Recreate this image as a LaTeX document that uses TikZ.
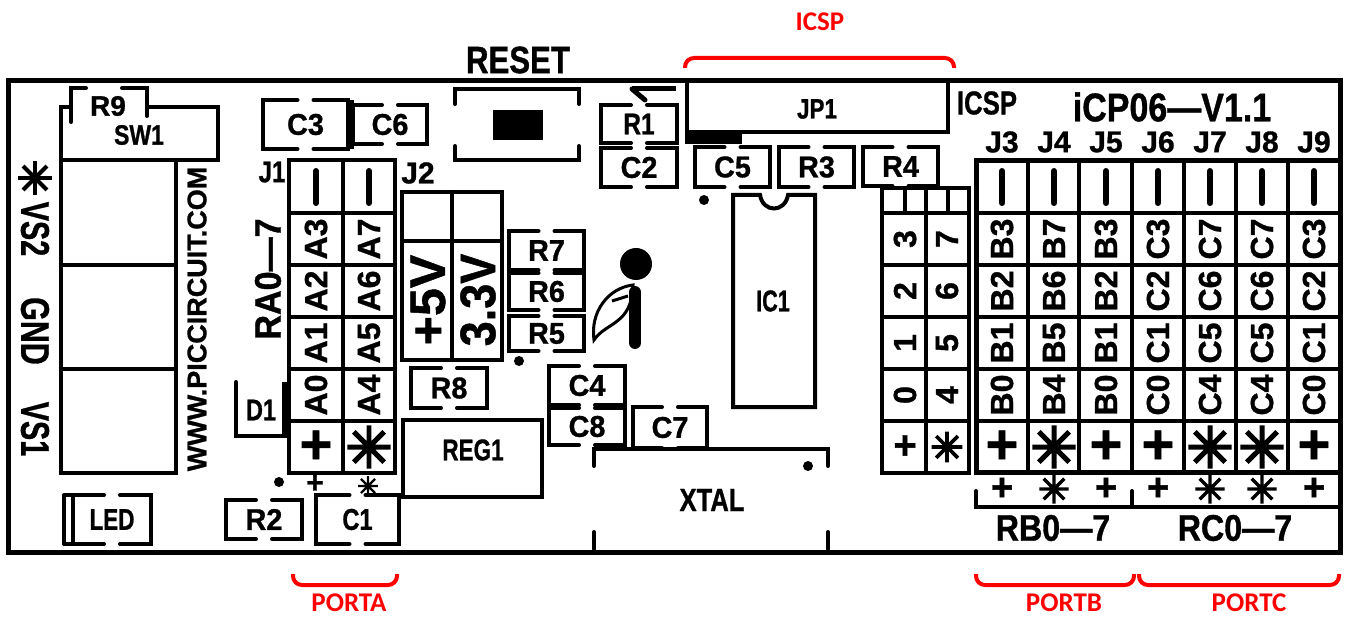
\documentclass[tikz,border=0pt]{standalone}
\usepackage{fontspec}
\setmainfont[BoldFeatures={FakeBold=1}]{Liberation Sans}
\newfontfamily\notefont{Carlito}
\newfontfamily\symfont[FakeBold=4]{DejaVu Sans}
\newcommand{\starmark}{{\symfont ✳}}
\newcommand{\plusmark}{+}
% one part outline, open at the middle of its top and bottom edge
\newcommand{\partbox}[6]{%
	\pgfmathsetmacro{\midl}{(#2+#4)/2-8}
	\pgfmathsetmacro{\midr}{(#2+#4)/2+8}
	\draw[part] (\midl,#3) -- (#2,#3) -- (#2,#5) -- (\midl,#5);
	\draw[part] (\midr,#3) -- (#4,#3) -- (#4,#5) -- (\midr,#5);
	\node[silk=30,xscale=.96] (#1) at ({(#2+#4)/2},{(#3+#5)/2}) {#6};
}
\begin{document}
\begin{tikzpicture}[x=1pt,y=-1pt,
		  line join=miter,
		  part/.style={line width=4pt,line cap=round},
		  silk/.style={font=\bfseries\fontsize{#1}{#1}\selectfont,inner sep=0pt,text=black},
		  dotmark/.style={fill=black,draw=none},
		  redline/.style={red,line width=4pt,rounded corners=9pt},
		  redtext/.style={font=\notefont\bfseries\fontsize{27}{27}\selectfont,text=red,inner sep=0pt}]
	\useasboundingbox (0,0) rectangle (1346,617);
	\fill[white] (0,0) rectangle (1346,617);
	\draw[line width=5pt] (8,81) rectangle (1340,552);
	% left side
	\draw[part] (61,160) rectangle (176,473);
	\draw[part] (61,265) -- (176,265) (61,369) -- (176,369);
	\draw[part] (61,122) -- (61,107) -- (71,107) (147,107) -- (218,107) -- (218,160) -- (61,160) -- (61,107);
	\draw[part] (71,122) -- (71,88) -- (86,88) (122,88) -- (147,88) -- (147,116);
	\node[silk=28] (r9) at (108,106) {R9};
	\node[silk=28,xscale=.82] (sw1) at (139,135) {SW1};
	\node[silk=40,rotate=-90,xscale=.72] (vs2) at (35,229) {VS2};
	\node[silk=44,rotate=-90] (vs2sign) at (35,178) {\starmark};
	\node[silk=40,rotate=-90,xscale=.76] (gnd) at (35,331) {GND};
	\node[silk=40,rotate=-90,xscale=.72] (vs1) at (35,429) {VS1};
	\node[silk=27,rotate=90] (web) at (197,319) {WWW.PICCIRCUIT.COM};
	\node[silk=37,rotate=90,xscale=.92] (ra) at (268,279) {RA0—7};
	\node[silk=30,xscale=.8] (j1) at (272,172) {J1};
	\node[silk=30,xscale=.78] (d1) at (261,410) {D1};
	\draw[part] (236,382) -- (236,436) -- (286,436);
	\draw[line width=6pt] (285,382) -- (285,438);
	\partbox{c3}{263}{100}{348}{149}{C3}
	\partbox{c6}{353}{105}{427}{144}{C6}
	\draw[line width=6pt] (351,100) -- (351,149);
	\partbox{r2}{226}{500}{302}{539}{R2}
	\partbox{c1}{316}{495}{399}{544}{\scalebox{.82}[1]{C1}}
	\partbox{led}{73}{495}{151}{544}{\scalebox{.78}[1]{LED}}
	\draw[part] (64,495) -- (73,495) (64,544) -- (73,544) (64,495) -- (64,544);
	\fill[dotmark] (279,482) circle[radius=5pt];
	\node[silk=30] (j1plus) at (315,484) {\plusmark};
	\node[silk=26] (j1star) at (368,486) {\starmark};
	% J1
	\draw[part] (289,160) rectangle (395,473);
	\draw[part] (343,160) -- (343,473);
	\foreach \rowy in {213,265,317,369,421}
		\draw[part] (289,\rowy) -- (395,\rowy);
	\foreach \cx/\ta/\tb/\tc/\td/\sg in {316/A3/A2/A1/A0/\plusmark,369/A7/A6/A5/A4/\starmark}{
		\draw[line width=6pt,line cap=round] (\cx,171) -- (\cx,203);
		\node[silk=32,rotate=90] at (\cx,239) {\ta};
		\node[silk=32,rotate=90] at (\cx,291) {\tb};
		\node[silk=32,rotate=90] at (\cx,343) {\tc};
		\node[silk=32,rotate=90] at (\cx,395) {\td};
		\node[silk=56] at (\cx,447) {\sg};
	}
	% J2
	\draw[part] (402,192) rectangle (502,360);
	\draw[part] (452,192) -- (452,360) (402,241) -- (502,241);
	\node[silk=30] (j2) at (418,173) {J2};
	\node[silk=50,rotate=90] (v5) at (428,300) {+5V};
	\node[silk=50,rotate=90,xscale=.9] (v33) at (478,300) {3.3V};
	% reset and the parts beside it
	\node[silk=38,xscale=.82] (reset) at (518,60) {RESET};
	\draw[part] (455,104) -- (455,89) -- (579,89) -- (579,104);
	\draw[part] (455,146) -- (455,160) -- (579,160) -- (579,146);
	\fill (493,110) rectangle (543,140);
	\partbox{r7}{509}{231}{584}{270}{R7}
	\partbox{r6}{509}{273}{584}{310}{R6}
	\partbox{r5}{509}{316}{584}{351}{R5}
	\fill[dotmark] (519,361) circle[radius=5pt];
	\partbox{r8}{411}{368}{487}{408}{R8}
	\partbox{c4}{549}{366}{625}{405}{C4}
	\partbox{c8}{549}{408}{625}{445}{C8}
	\partbox{c7}{633}{407}{707}{448}{C7}
	\draw[part] (403,420) rectangle (542,497);
	\node[silk=30,xscale=.75] (reg1) at (473,450) {REG1};
	\partbox{r1}{601}{105}{677}{143}{\scalebox{.85}[1]{R1}}
	\partbox{c2}{601}{148}{677}{187}{C2}
	\draw[line width=5pt] (632,89) -- (676,89);
	\draw[line width=5pt,line cap=round] (632,89) -- (645,100);
	% logo
	\fill[dotmark] (636,264) circle[radius=16pt];
	\draw[line width=12pt,line cap=round] (635,292) -- (635,343);
	\draw[line width=3pt] (633,285) .. controls (608,288) and (590,312) .. (594,340) .. controls (606,322) and (632,325) .. cycle;
	\draw[line width=3pt] (628,296) -- (612,301);
	% JP1
	\draw[part] (687,81) -- (687,132) -- (948,132) -- (948,81);
	\fill (685,132) rectangle (742,144);
	\node[silk=28,xscale=.8] (jp1) at (817,109) {JP1};
	\partbox{c5}{695}{147}{770}{187}{C5}
	\partbox{r3}{779}{147}{854}{187}{R3}
	\partbox{r4}{863}{147}{938}{186}{R4}
	\fill[dotmark] (704,200) circle[radius=5pt];
	\draw[part] (733,195) -- (760,195) .. controls (763,213) and (785,213) .. (788,195) -- (815,195) -- (815,407) -- (733,407) -- cycle;
	\node[silk=30,xscale=.72] (ic1) at (773,301) {IC1};
	% XTAL
	\draw[part] (594,466) -- (594,449) -- (828,449) -- (828,466);
	\draw[part] (594,532) -- (594,549) (828,532) -- (828,549);
	\fill[dotmark] (808,466) circle[radius=5pt];
	\node[silk=32,xscale=.8] (xtal) at (712,500) {XTAL};
	% small header
	\draw[part] (882,188) rectangle (969,473);
	\draw[part] (926,188) -- (926,473) (905,188) -- (905,213) (948,188) -- (948,213);
	\foreach \rowy in {213,265,317,369,421}
		\draw[part] (882,\rowy) -- (969,\rowy);
	\foreach \cx/\ta/\tb/\tc/\td/\sg in {905/3/2/1/0/\plusmark,947/7/6/5/4/\starmark}{
		\node[silk=32,rotate=90] at (\cx,239) {\ta};
		\node[silk=32,rotate=90] at (\cx,291) {\tb};
		\node[silk=32,rotate=90] at (\cx,343) {\tc};
		\node[silk=32,rotate=90] at (\cx,395) {\td};
		\node[silk=40] at (\cx,447) {\sg};
	}
	% right headers
	\node[silk=33,xscale=.78] (icsp) at (987,103) {ICSP};
	\node[silk=40,xscale=.85] (board) at (1172,107) {iCP06—V1.1};
	\draw[line width=5pt] (976,161) rectangle (1340,472);
	\foreach \colx in {1028,1079,1132,1184,1236,1288}
		\draw[part] (\colx,161) -- (\colx,472);
	\foreach \rowy in {213,265,317,369,421}
		\draw[part] (976,\rowy) -- (1340,\rowy);
	\foreach \cx/\jn/\ta/\tb/\tc/\td/\sg in {1002/J3/B3/B2/B1/B0/\plusmark,1054/J4/B7/B6/B5/B4/\starmark,1106/J5/B3/B2/B1/B0/\plusmark,1158/J6/C3/C2/C1/C0/\plusmark,1210/J7/C7/C6/C5/C4/\starmark,1262/J8/C7/C6/C5/C4/\starmark,1314/J9/C3/C2/C1/C0/\plusmark}{
		\node[silk=30] at (\cx,142) {\jn};
		\draw[line width=6pt,line cap=round] (\cx,171) -- (\cx,203);
		\node[silk=32,rotate=90] at (\cx,239) {\ta};
		\node[silk=32,rotate=90] at (\cx,291) {\tb};
		\node[silk=32,rotate=90] at (\cx,343) {\tc};
		\node[silk=32,rotate=90] at (\cx,395) {\td};
		\node[silk=56] at (\cx,447) {\sg};
		\node[silk=38] at (\cx,489) {\sg};
	}
	\draw[part] (976,491) -- (976,507) -- (1340,507) (1132,491) -- (1132,507);
	\node[silk=37,xscale=.87] (rb) at (1053,528) {RB0—7};
	\node[silk=37,xscale=.87] (rc) at (1235,528) {RC0—7};
	% red notes
	\draw[redline] (685,68) -- (685,58) -- (954,58) -- (954,68);
	\node[redtext] (icspnote) at (820,22) {ICSP};
	\draw[redline] (293,574) -- (293,585) -- (397,585) -- (397,574);
	\node[redtext] (porta) at (349,603) {PORTA};
	\draw[redline] (976,574) -- (976,585) -- (1134,585) -- (1134,574);
	\node[redtext] (portb) at (1064,603) {PORTB};
	\draw[redline] (1139,574) -- (1139,585) -- (1339,585) -- (1339,574);
	\node[redtext] (portc) at (1249,603) {PORTC};
\end{tikzpicture}
\end{document}
